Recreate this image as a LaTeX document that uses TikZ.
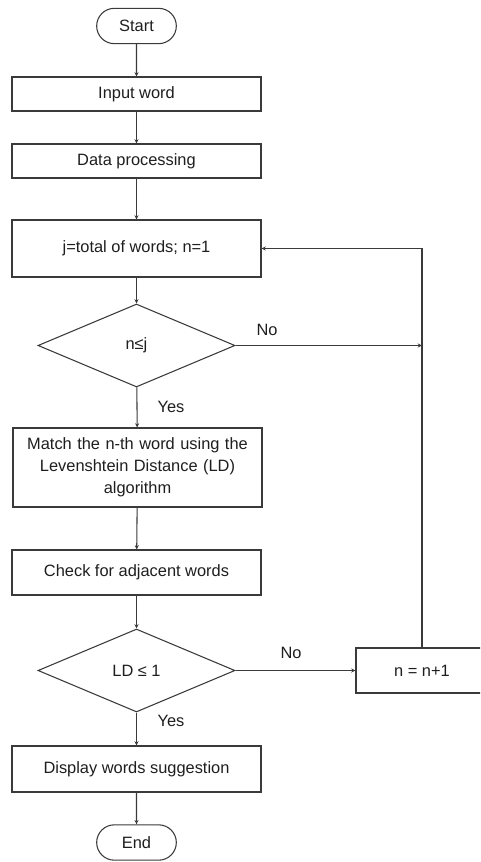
\documentclass[tikz,border=0pt]{standalone}
\usepackage{fontspec}
\setmainfont{Liberation Sans}
\usetikzlibrary{shapes.geometric,shapes.misc,arrows.meta}
\definecolor{ln}{HTML}{3A3A3A}
\definecolor{tx}{HTML}{1E1E1E}
\begin{document}
\begin{tikzpicture}[x=0.75pt,y=-0.75pt,
  every node/.style={text=tx,font=\fontsize{12.3}{16.5}\selectfont},
  procbox/.style={draw=ln,line width=0.8pt,rectangle,minimum width=186.75pt,inner sep=2pt,align=center},
  termbox/.style={draw=ln,line width=0.8pt,rounded rectangle,minimum width=63.75pt,minimum height=26.5pt,inner sep=2pt},
  decbox/.style={draw=ln,line width=0.8pt,diamond,minimum width=147.75pt,minimum height=62.25pt,inner sep=0pt},
  flow/.style={draw=ln,line width=0.8pt,-{Stealth[length=3.2pt,width=3pt]}},
  lbl/.style={inner sep=0pt}]
\useasboundingbox (0,0) rectangle (480,862);
\clip (0,0) rectangle (480,862);
\node[termbox] (start) at (136.5,26) {Start};
\node[procbox,minimum height=25.5pt] (input) at (136.5,94) {Input word};
\node[procbox,minimum height=25.5pt] (data) at (136.5,161) {Data processing};
\node[procbox,minimum height=42.75pt] (jbox) at (136.5,248.5) {j=total of words; n=1};
\node[decbox] (d1) at (136.5,345.5) {n≤j};
\node[procbox,minimum height=59.25pt,text width=180pt] (match) at (137.5,467.5) {Match the n-th word using the\\Levenshtein Distance (LD)\\algorithm};
\node[procbox,minimum height=33.75pt] (check) at (136.5,572.5) {Check for adjacent words};
\node[decbox] (d2) at (136.5,670.5) {LD ≤ 1};
\node[procbox,minimum width=99pt,minimum height=33.75pt] (inc) at (422,670.5) {n = n+1};
\node[procbox,minimum height=34.5pt] (disp) at (136.5,769) {Display words suggestion};
\node[termbox] (end) at (136.5,842.5) {End};
\coordinate (j1) at (inc.north |- d1.east);
\path[flow] (start) -- (input);
\path[flow] (input) -- (data);
\path[flow] (data) -- (jbox);
\path[flow] (jbox) -- (d1);
\path[flow] (d1) -- (match);
\path[flow] (match) -- (check);
\path[flow] (check) -- (d2);
\path[flow] (d2) -- (disp);
\path[flow] (disp) -- (end);
\path[flow] (d2.east) -- (inc.west);
\path[flow] (d1.east) -- (j1);
\path[flow] (inc.north) |- (jbox.east);
\node[lbl] (no1) at (267,330) {No};
\node[lbl] (yes1) at (171,407) {Yes};
\node[lbl] (no2) at (291,653) {No};
\node[lbl] (yes2) at (171,721) {Yes};
\end{tikzpicture}
\end{document}
